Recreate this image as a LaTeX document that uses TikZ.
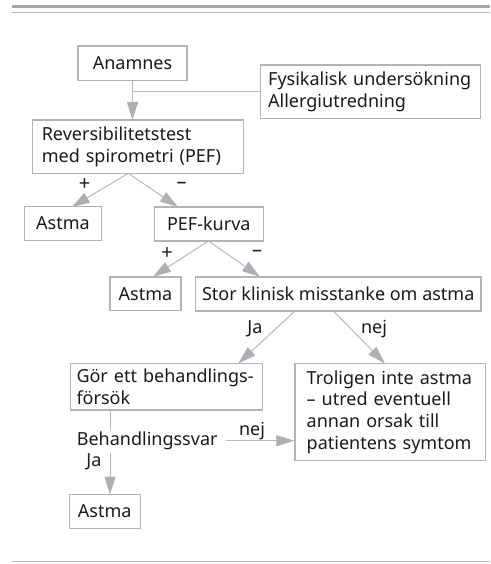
\documentclass[tikz,border=0pt]{standalone}
\usepackage{fontspec}
\setmainfont{Noto Sans}
\usetikzlibrary{arrows.meta,calc}
\definecolor{boxgray}{HTML}{B4B4B4}
\definecolor{linegray}{HTML}{B8B8B8}
\definecolor{arrowgray}{HTML}{AEB0B5}
\definecolor{rulegray}{HTML}{A6A6A6}
\definecolor{txt}{HTML}{1A1A1A}
\hbadness=10000 \hfuzz=200pt
\begin{document}
\begin{tikzpicture}[x=1pt,y=-1pt,
  font=\fontsize{18}{21.7}\selectfont, text=txt,
  box/.style={draw=boxgray, line width=1.2pt, inner sep=0pt},
  conn/.style={draw=linegray, line width=1pt},
  arr/.style={conn, -{Triangle[length=18pt,width=11pt,color=arrowgray]}},
  lbl/.style={inner sep=0pt}]
\useasboundingbox (0,0) rectangle (490,564);
% rules
\fill[rulegray] (11.7,4.7) rectangle (490,8);
\draw[linegray, line width=1pt] (11.7,12.8) -- (490,12.8);
\draw[linegray, line width=1pt] (11.7,561.7) -- (490,561.7);
% nodes
\node[box, minimum width=109pt, minimum height=34.7pt] (anam) at (132.5,63.3) {Anamnes};
\node[box, minimum width=220pt, minimum height=53.3pt, text width=205pt, align=left] (fys) at (370.7,91.7) {\mbox{Fysikalisk undersökning}\\\mbox{Allergiutredning}};
\node[box, minimum width=211pt, minimum height=53.3pt, text width=192pt, align=left] (rev) at (137.8,146.7) {\mbox{Reversibilitetstest}\\\mbox{med spirometri (PEF)}};
\node[box, minimum width=76.5pt, minimum height=33.5pt] (astmaA) at (63,223.5) {Astma};
\node[box, minimum width=109pt, minimum height=34pt] (pef) at (208.8,224) {PEF-kurva};
\node[box, minimum width=71pt, minimum height=33.5pt] (astmaB) at (145.5,293.8) {Astma};
\node[box, minimum width=285.7pt, minimum height=34pt] (stor) at (338.2,294) {Stor klinisk misstanke om astma};
\node[box, minimum width=191.8pt, minimum height=46.5pt, text width=179.8pt, align=left] (gor) at (166.4,386.7) {\mbox{Gör ett behandlings-}\\\mbox{försök}};
\node[box, minimum width=190.5pt, minimum height=97.2pt, text width=167pt, align=left] (trol) at (390.2,412.1) {\mbox{Troligen inte astma}\\\mbox{– utred eventuell}\\\mbox{annan orsak till}\\\mbox{patientens symtom}};
\node[lbl] (beh) at (147.2,440.7) {Behandlingssvar};
\node[box, minimum width=71pt, minimum height=34pt] (astmaC) at (104.7,511.5) {Astma};
% coordinates
\coordinate (anamStem) at (anam.south);
\coordinate (anamJoin) at (132.5,92);
\coordinate (revTop) at (132.5,120);
\coordinate (revB) at (128.3,173.3);
\coordinate (tipA) at (71.7,207);
\coordinate (tipPef) at (178,207);
\coordinate (pefB) at (208.5,241);
\coordinate (tipB) at (153,276.7);
\coordinate (tipStor) at (260,276.7);
\coordinate (storL) at (295,311);
\coordinate (storR) at (333.3,311);
\coordinate (tipGor) at (238.3,363.5);
\coordinate (tipTrol) at (385,363.5);
\coordinate (gorB) at (110,410);
\coordinate (behTop) at (110,430);
\coordinate (behBot) at (110,453.3);
\coordinate (tipC) at (110,494.5);
\coordinate (behR) at (226,440.7);
% connectors
\draw[arr] (anamStem) -- (revTop);
\draw[conn] (anamJoin) -- (fys.west |- anamJoin);
\draw[arr] (revB) -- (tipA);
\draw[arr] (revB) -- (tipPef);
\draw[arr] (pefB) -- (tipB);
\draw[arr] (pefB) -- (tipStor);
\draw[arr] (storL) -- (tipGor);
\draw[arr] (storR) -- (tipTrol);
\draw[conn] (gorB) -- (behTop);
\draw[arr] (behBot) -- (tipC);
\draw[arr] (behR) -- (trol.west |- behR);
% labels
\node[lbl, font=\fontsize{20}{21.7}\selectfont] (p1) at (84.7,185) {+};
\node[lbl, font=\fontsize{20}{21.7}\selectfont] (m1) at (181.7,185.5) {–};
\node[lbl, font=\fontsize{20}{21.7}\selectfont] (p2) at (167,254) {+};
\node[lbl, font=\fontsize{20}{21.7}\selectfont] (m2) at (257,253.5) {–};
\node[lbl, anchor=base] (ja1) at (255,333.3) {Ja};
\node[lbl, anchor=base] (nej1) at (374,333.3) {nej};
\node[lbl, anchor=base] (nej2) at (252,435) {nej};
\node[lbl, anchor=base] (ja2) at (94,466.7) {Ja};
\end{tikzpicture}
\end{document}
